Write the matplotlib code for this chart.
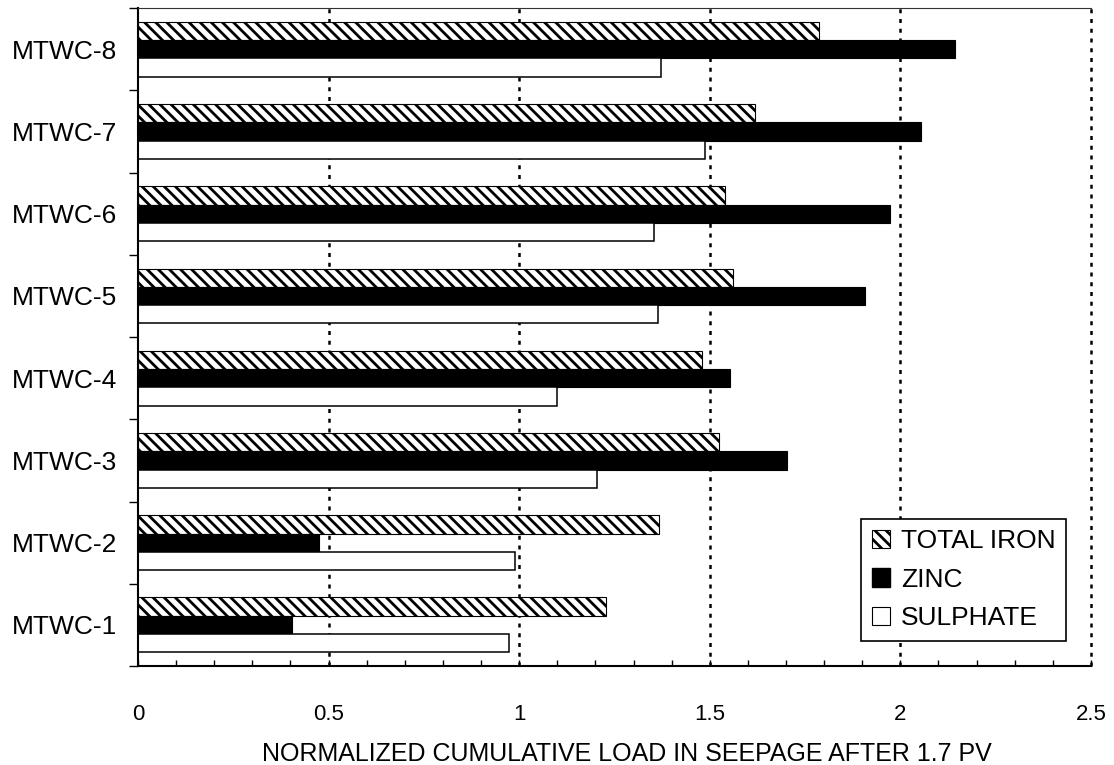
import numpy as np
import matplotlib
matplotlib.use("Agg")
import matplotlib.pyplot as plt
from matplotlib.patches import Patch

plt.rcParams['font.family'] = ['Liberation Sans', 'DejaVu Sans']
plt.rcParams['hatch.linewidth'] = 2.0

columns = ['MTWC-1', 'MTWC-2', 'MTWC-3', 'MTWC-4', 'MTWC-5', 'MTWC-6', 'MTWC-7', 'MTWC-8']
total_iron = [1.229, 1.366, 1.525, 1.479, 1.562, 1.540, 1.618, 1.787]
zinc = [0.403, 0.476, 1.703, 1.552, 1.908, 1.974, 2.053, 2.143]
sulphate = [0.973, 0.990, 1.204, 1.099, 1.364, 1.353, 1.488, 1.372]
x_ticks = [0, 0.5, 1, 1.5, 2, 2.5]
x_ticklabels = ['0', '0.5', '1', '1.5', '2', '2.5']

y = np.arange(len(columns))
h = 0.222

fig = plt.figure(figsize=(11.14, 7.65), dpi=100)
ax = fig.add_axes([0.1239, 0.1294, 0.8554, 0.8601])

# dotted vertical grid behind the bars
for xv in x_ticks[1:]:
    ax.axvline(xv, color='black', lw=1.8, linestyle=(0, (1.6, 2.3)),
               zorder=0, clip_on=False)

ax.barh(y + h, total_iron, height=h, color='white', edgecolor='black',
        hatch='\\\\\\', linewidth=0.8, zorder=2)
ax.barh(y, zinc, height=h, color='black', edgecolor='black', linewidth=0.8, zorder=2)
ax.barh(y - h, sulphate, height=h, color='white', edgecolor='black', linewidth=1.1, zorder=2)

ax.set_xlim(0, 2.5)
ax.set_ylim(-0.5, len(columns) - 0.5)

# x axis: labels every 0.5, small inward ticks every 0.1
ax.set_xticks(x_ticks)
ax.set_xticklabels(x_ticklabels)
ax.set_xticks(np.arange(0.1, 2.5, 0.1), minor=True)
ax.tick_params(axis='x', which='both', direction='in', length=4.5, width=1,
               labelsize=16, pad=27)

# y axis: ticks between groups, names at group centres
ax.set_yticks(np.arange(-0.5, len(columns), 1.0))
ax.set_yticklabels([])
ax.set_yticks(y, minor=True)
ax.set_yticklabels(columns, minor=True, fontsize=19)
ax.tick_params(axis='y', which='major', direction='out', length=6.5, width=1)
ax.tick_params(axis='y', which='minor', length=0, pad=15)

ax.spines['right'].set_visible(False)
ax.spines['top'].set_linewidth(0.8)
ax.spines['top'].set_color('#333333')
ax.spines['left'].set_linewidth(1.5)
ax.spines['bottom'].set_linewidth(1.5)

ax.set_xlabel('NORMALIZED CUMULATIVE LOAD IN SEEPAGE AFTER 1.7 PV', fontsize=18)
ax.xaxis.set_label_coords(0.513, -0.115)

handles = [
    Patch(facecolor='white', edgecolor='black', hatch='\\\\\\', linewidth=0.8, label='TOTAL IRON'),
    Patch(facecolor='black', edgecolor='black', label='ZINC'),
    Patch(facecolor='white', edgecolor='black', linewidth=0.8, label='SULPHATE'),
]
leg = ax.legend(handles=handles, loc='lower right', bbox_to_anchor=(0.974, 0.038),
                fontsize=19, frameon=True, fancybox=False, framealpha=1,
                edgecolor='black', handlelength=0.7, handleheight=0.7,
                handletextpad=0.4, borderpad=0.4, labelspacing=0.55,
                borderaxespad=0)
leg.get_frame().set_linewidth(1.2)
leg.set_zorder(5)

fig.savefig('out.png', dpi=100)
